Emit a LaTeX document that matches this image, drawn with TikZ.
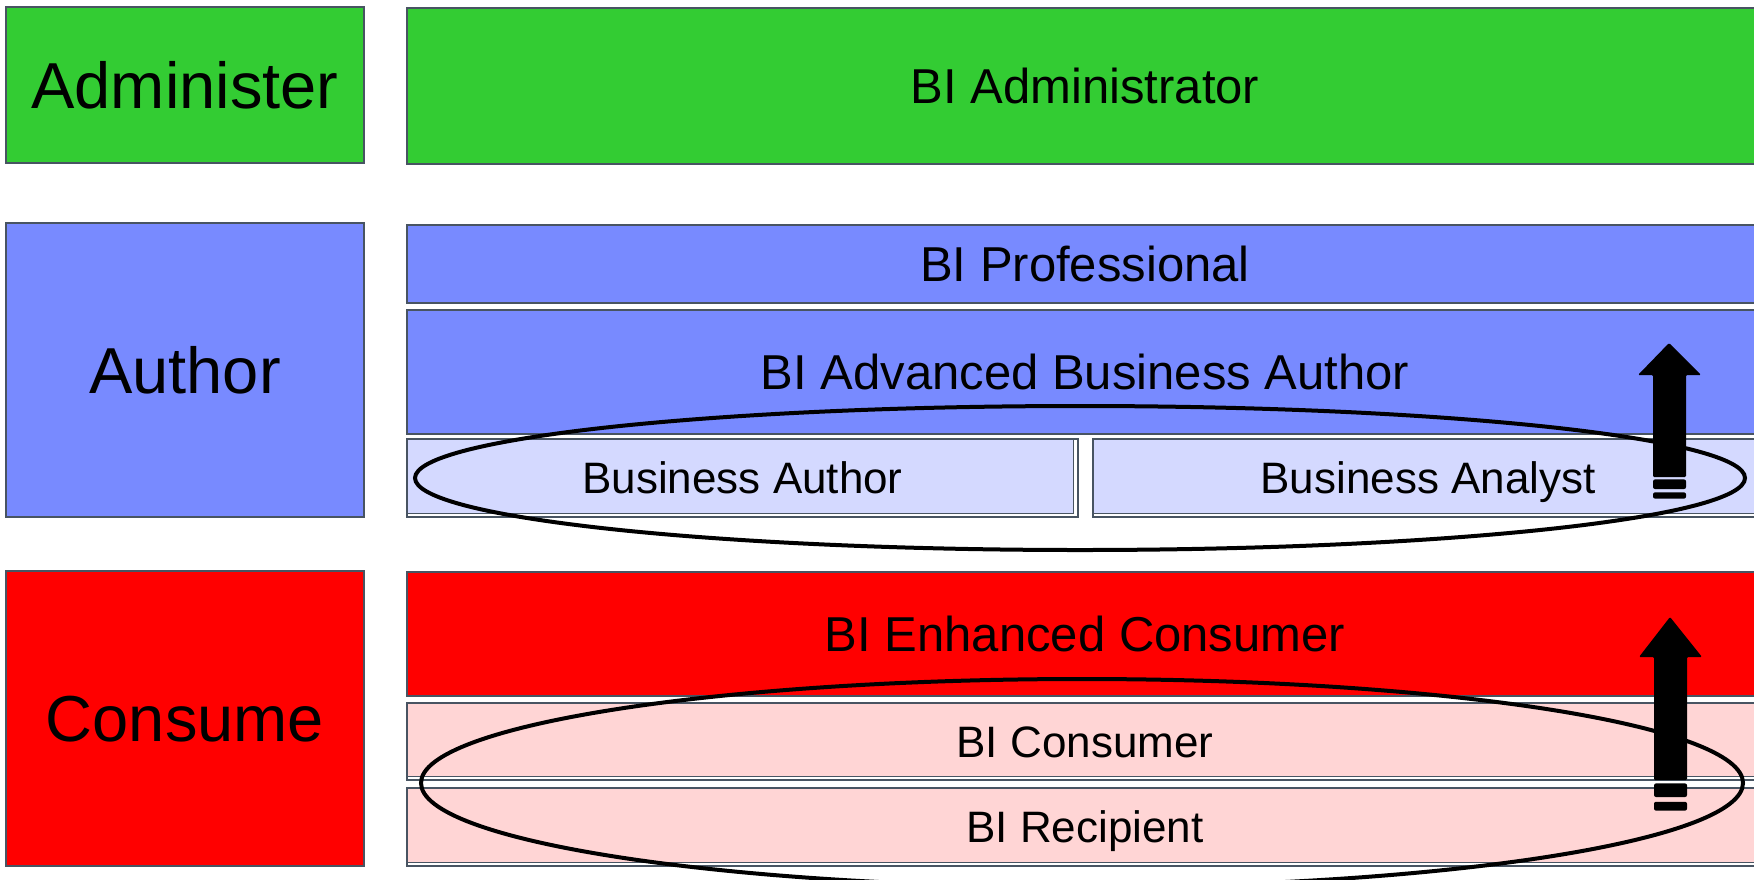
\documentclass[tikz,border=0pt]{standalone}
\usepackage{fontspec}
\setmainfont{Liberation Sans}
\definecolor{edge}{RGB}{72,84,98}
\definecolor{admgreen}{RGB}{51,204,51}
\definecolor{autblue}{RGB}{120,138,255}
\definecolor{autlight}{RGB}{212,217,255}
\definecolor{conred}{RGB}{255,0,0}
\definecolor{conlight}{RGB}{255,213,213}
\tikzset{
	tier/.style={draw=edge, line width=1pt, inner sep=0pt, minimum width=179pt,
		font=\fontsize{32.5}{39}\selectfont, text height=23.3pt, text depth=0pt},
	role/.style={draw=edge, line width=1pt, inner sep=0pt, minimum width=678pt,
		font=\fontsize{24.5}{29}\selectfont, text height=17.5pt, text depth=0pt},
	sub/.style={draw=edge, fill=white, line width=1pt, inner sep=0pt, minimum height=39pt,
		font=\fontsize{22}{26}\selectfont, text height=15.8pt, text depth=0pt,
		path picture={
			\fill[#1] (path picture bounding box.north west) rectangle ([xshift=-2.5pt,yshift=2pt]path picture bounding box.south east);
			\draw[line width=0.5pt] ([yshift=2pt]path picture bounding box.south west) -| ([xshift=-2.5pt]path picture bounding box.north east);
		}},
	ring/.style={draw=black, line width=2pt}
}
\newcommand{\stripedup}[5]{%
	\fill[rounded corners=0.6pt] (#1,#2) -- (#1+32,#3) -- (#1+17,#3) -- (#1+17,#4) -- (#1-16,#4) -- (#1-16,#3) -- (#1-31,#3) -- cycle;
	\fill[rounded corners=1pt] (#1-16,#4+#5) rectangle (#1+17,#4+5*#5);
	\fill[rounded corners=1pt] (#1-16,#4+6.4*#5) rectangle (#1+17,#4+9*#5);
}
\begin{document}
\begin{tikzpicture}[x=0.5pt, y=-0.5pt]
	\useasboundingbox (0,0) rectangle (1754,879);
	\fill[white] (0,0) rectangle (1754,879);
	\clip (0,0) rectangle (1754,879);
	
	\node[tier, fill=admgreen, minimum height=78pt] (administer) at (185,85) {Administer};
	\node[tier, fill=autblue, minimum height=147pt] (author) at (185,370) {Author};
	\node[tier, fill=conred, minimum height=147.5pt] (consume) at (185,718.5) {Consume};
	
	\node[role, fill=admgreen, minimum height=78pt] (biadmin) at (1085,86) {BI Administrator};
	\node[role, fill=autblue, minimum height=39pt] (biprof) at (1085,264) {BI Professional};
	\node[role, fill=autblue, minimum height=62pt] (biadv) at (1085,372) {BI Advanced Business Author};
	\node[sub=autlight, minimum width=335.5pt] (bauthor) at (742.5,478) {Business Author};
	\node[sub=autlight, minimum width=335pt] (banalyst) at (1428,478) {Business Analyst};
	
	\node[role, fill=conred, minimum height=62pt] (bienh) at (1085,634) {BI Enhanced Consumer};
	\node[sub=conlight, minimum width=678pt, minimum height=38.5pt] (bicons) at (1085,741.5) {BI Consumer};
	\node[sub=conlight, minimum width=678pt] (birecip) at (1085,827) {BI Recipient};
	
	\draw[ring] (1080,478) ellipse [x radius=332.5pt, y radius=36pt];
	\draw[ring] (1082,783) ellipse [x radius=330.5pt, y radius=52pt];
	
	\stripedup{1669}{343}{375}{477}{2.4}
	\stripedup{1670}{617}{657}{780}{3.4}
\end{tikzpicture}
\end{document}
